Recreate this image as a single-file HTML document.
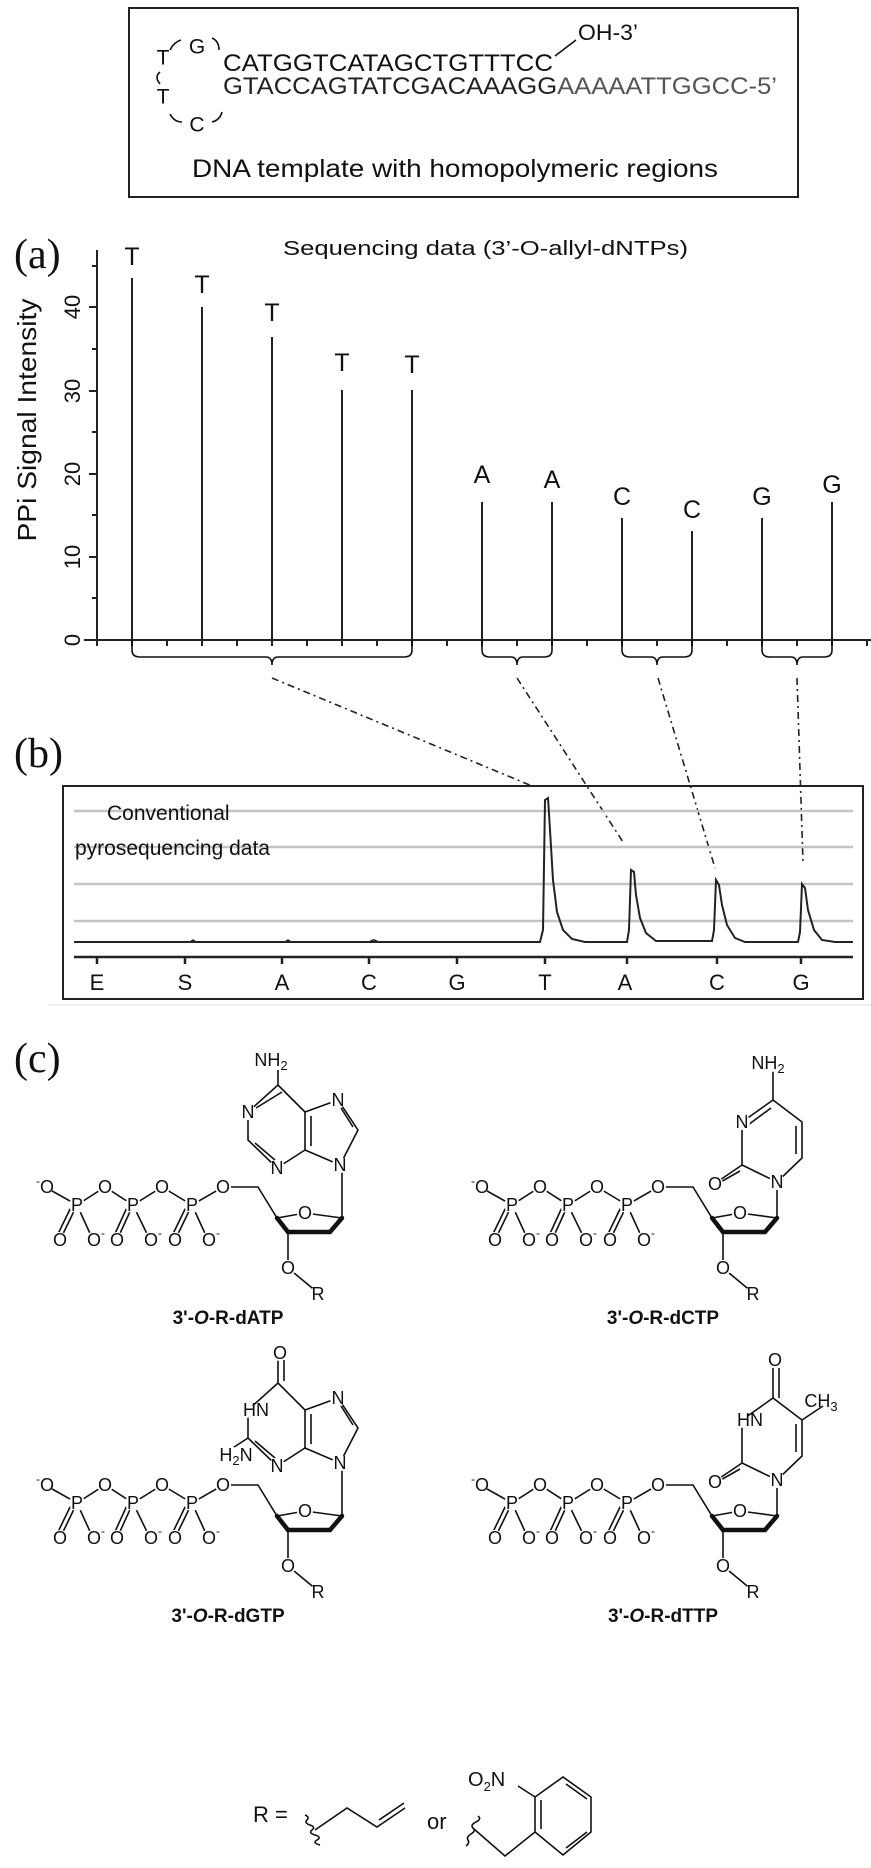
<!DOCTYPE html>
<html><head><meta charset="utf-8"><style>
html,body{margin:0;padding:0;background:#fff}
svg{display:block}
text{font-family:"Liberation Sans",sans-serif;fill:#111}
.ser{font-family:"Liberation Serif",serif}
.at{font-size:18px;text-anchor:middle;dominant-baseline:central;}
.b{stroke:#111;stroke-width:1.6;fill:none}
.w{stroke:#111;stroke-width:4.5;fill:none;stroke-linecap:round}
.lbl{font-size:19px;font-weight:bold;text-anchor:middle}
.dd{stroke:#222;stroke-width:1.6;stroke-dasharray:7 4 2 4;fill:none}
circle.h{fill:#fff;stroke:none}
</style></head><body>
<svg width="871" height="1868" viewBox="0 0 871 1868" xmlns="http://www.w3.org/2000/svg">
<rect x="0" y="0" width="871" height="1868" fill="#fff"/>

<!-- TOP BOX -->
<rect x="129" y="8" width="669" height="189" fill="none" stroke="#222" stroke-width="2"/>
<text x="163" y="58" font-size="21" text-anchor="middle" dominant-baseline="central">T</text>
<text x="197" y="47" font-size="21" text-anchor="middle" dominant-baseline="central">G</text>
<text x="163" y="97" font-size="21" text-anchor="middle" dominant-baseline="central">T</text>
<text x="197" y="125" font-size="21" text-anchor="middle" dominant-baseline="central">C</text>
<path d="M170,50 Q174,42 181,40 M212,38 Q219,41 219,50 M160,72 Q154,77 160,84 M170,114 Q174,122 182,122 M212,122 Q220,120 222,112" class="b"/>
<text x="223" y="71" font-size="24" textLength="330" lengthAdjust="spacingAndGlyphs">CATGGTCATAGCTGTTTCC</text>
<line x1="555" y1="56" x2="576" y2="40" class="b"/>
<text x="578" y="40" font-size="22" textLength="60" lengthAdjust="spacingAndGlyphs">OH-3’</text>
<text x="223" y="94" font-size="24" textLength="554" lengthAdjust="spacingAndGlyphs"><tspan fill="#222">GTACCAGTATCGACAAAGG</tspan><tspan fill="#555">AAAAATTGGCC-5’</tspan></text>
<text x="192" y="177" font-size="25" textLength="526" lengthAdjust="spacingAndGlyphs">DNA template with homopolymeric regions</text>

<!-- PANEL A -->
<text x="14" y="268" class="ser" font-size="42">(a)</text>
<text x="283" y="255" font-size="20" textLength="405" lengthAdjust="spacingAndGlyphs">Sequencing data (3’-O-allyl-dNTPs)</text>
<line x1="97" y1="250" x2="97" y2="640" stroke="#222" stroke-width="2"/>
<path d="M89,640H97M89,557H97M89,474H97M89,391H97M89,307H97M92,598H97M92,515H97M92,432H97M92,349H97M92,266H97" stroke="#222" stroke-width="2"/>
<g font-size="22" text-anchor="middle">
<text transform="translate(80,640) rotate(-90)">0</text>
<text transform="translate(80,557) rotate(-90)">10</text>
<text transform="translate(80,474) rotate(-90)">20</text>
<text transform="translate(80,391) rotate(-90)">30</text>
<text transform="translate(80,307) rotate(-90)">40</text>
</g>
<text transform="translate(36,420) rotate(-90)" font-size="26" text-anchor="middle" textLength="243" lengthAdjust="spacingAndGlyphs">PPi Signal Intensity</text>
<line x1="84" y1="640" x2="871" y2="640" stroke="#222" stroke-width="2"/>
<path d="M97,640v6M132,640v6M167,640v6M202,640v6M237,640v6M272,640v6M307,640v6M342,640v6M377,640v6M412,640v6M447,640v6M482,640v6M517,640v6M552,640v6M587,640v6M622,640v6M657,640v6M692,640v6M727,640v6M762,640v6M797,640v6M832,640v6M867,640v6" stroke="#222" stroke-width="2"/>
<g stroke="#222" stroke-width="2">
<line x1="132" y1="640" x2="132" y2="278"/>
<line x1="202" y1="640" x2="202" y2="307"/>
<line x1="272" y1="640" x2="272" y2="337"/>
<line x1="342" y1="640" x2="342" y2="390"/>
<line x1="412" y1="640" x2="412" y2="390"/>
<line x1="482" y1="640" x2="482" y2="502"/>
<line x1="552" y1="640" x2="552" y2="502"/>
<line x1="622" y1="640" x2="622" y2="518"/>
<line x1="692" y1="640" x2="692" y2="531"/>
<line x1="762" y1="640" x2="762" y2="518"/>
<line x1="832" y1="640" x2="832" y2="502"/>
</g>
<g font-size="25" text-anchor="middle" dominant-baseline="central">
<text x="132" y="257">T</text><text x="202" y="285">T</text><text x="272" y="313">T</text>
<text x="342" y="363">T</text><text x="412" y="365">T</text>
<text x="482" y="475">A</text><text x="552" y="480">A</text>
<text x="622" y="497">C</text><text x="692" y="510">C</text>
<text x="762" y="497">G</text><text x="832" y="485">G</text>
</g>
<g class="b" stroke-width="2">
<path d="M132,640V650Q132,657 140,657H266Q272,657 272,665Q272,657 278,657H404Q412,657 412,650V640"/>
<path d="M482,640V650Q482,657 490,657H511Q517,657 517,665Q517,657 523,657H544Q552,657 552,650V640"/>
<path d="M622,640V650Q622,657 630,657H651Q657,657 657,665Q657,657 663,657H684Q692,657 692,650V640"/>
<path d="M762,640V650Q762,657 770,657H791Q797,657 797,665Q797,657 803,657H824Q832,657 832,650V640"/>
</g>
<line class="dd" x1="272" y1="678" x2="532" y2="786"/>
<line class="dd" x1="517" y1="678" x2="623" y2="842"/>
<line class="dd" x1="658" y1="678" x2="715" y2="868"/>
<line class="dd" x1="797" y1="678" x2="803" y2="862"/>

<!-- PANEL B -->
<text x="14" y="767" class="ser" font-size="42">(b)</text>
<rect x="63" y="786" width="800" height="213" fill="none" stroke="#222" stroke-width="2"/>
<line x1="48" y1="1005" x2="871" y2="1005" stroke="#eee" stroke-width="2"/>
<g stroke="#c4c4c4" stroke-width="2.5">
<line x1="74" y1="811" x2="853" y2="811"/><line x1="74" y1="847" x2="853" y2="847"/>
<line x1="74" y1="884" x2="853" y2="884"/><line x1="74" y1="921" x2="853" y2="921"/>
</g>
<text x="107" y="820" font-size="21">Conventional</text>
<text x="75" y="855" font-size="21">pyrosequencing data</text>
<path d="M74,942H540L543,930L545,800L548,798L550,830L553,880L557,912L563,930L572,939L585,942H627L629,930L631,870L634,872L636,895L640,918L646,933L656,941H712L714,930L716,880L719,885L722,905L727,925L735,938L745,942H798L800,932L802,884L805,888L808,910L814,930L822,940L835,942H853" stroke="#222" stroke-width="2" fill="none"/>
<path d="M190,942l3,-2 3,2M285,942l3,-2 3,2M370,942q3,-4 8,0" stroke="#222" stroke-width="1.5" fill="none"/>
<line x1="74" y1="957" x2="853" y2="957" stroke="#222" stroke-width="2.5"/>
<path d="M97,957v7M185,957v7M282,957v7M369,957v7M457,957v7M545,957v7M627,957v7M717,957v7M801,957v7" stroke="#222" stroke-width="2.5"/>
<g font-size="22" text-anchor="middle">
<text x="97" y="990">E</text><text x="185" y="990">S</text><text x="282" y="990">A</text>
<text x="369" y="990">C</text><text x="457" y="990">G</text><text x="545" y="990">T</text>
<text x="625" y="990">A</text><text x="717" y="990">C</text><text x="801" y="990">G</text>
</g>

<!-- PANEL C -->
<text x="14" y="1072" class="ser" font-size="42">(c)</text>

<g>
<g class="b">
<path d="M45,1187L77,1205L105,1187L133,1205L162,1187L192,1205L223,1187H258L277,1218L305,1213L342,1218"/>
<path d="M77,1205L60,1240M73,1203L56,1238M77,1205L93,1240M133,1205L117,1240M129,1203L113,1238M133,1205L150,1240M192,1205L175,1240M188,1203L171,1238M192,1205L208,1240"/>
<path d="M288,1232V1268L317,1292"/>
</g>
<path class="w" d="M277,1218L288,1232H330L342,1218"/>
<g><circle class="h" cx="45" cy="1187" r="8"/><circle class="h" cx="105" cy="1187" r="8"/><circle class="h" cx="162" cy="1187" r="8"/><circle class="h" cx="223" cy="1187" r="8"/><circle class="h" cx="77" cy="1205" r="8"/><circle class="h" cx="133" cy="1205" r="8"/><circle class="h" cx="192" cy="1205" r="8"/><circle class="h" cx="60" cy="1240" r="8"/><circle class="h" cx="93" cy="1240" r="8"/><circle class="h" cx="117" cy="1240" r="8"/><circle class="h" cx="150" cy="1240" r="8"/><circle class="h" cx="175" cy="1240" r="8"/><circle class="h" cx="208" cy="1240" r="8"/><circle class="h" cx="305" cy="1213" r="8"/><circle class="h" cx="288" cy="1268" r="8"/><circle class="h" cx="318" cy="1294" r="8"/></g>
<text class="at" x="45" y="1187"><tspan font-size="12" dy="-6">-</tspan><tspan dy="6">O</tspan></text>
<text class="at" x="105" y="1187">O</text><text class="at" x="162" y="1187">O</text><text class="at" x="223" y="1187">O</text>
<text class="at" x="77" y="1205">P</text><text class="at" x="133" y="1205">P</text><text class="at" x="192" y="1205">P</text>
<text class="at" x="60" y="1240">O</text><text class="at" x="117" y="1240">O</text><text class="at" x="175" y="1240">O</text>
<text class="at" x="96" y="1240">O<tspan font-size="12" dy="-7">-</tspan></text>
<text class="at" x="153" y="1240">O<tspan font-size="12" dy="-7">-</tspan></text>
<text class="at" x="211" y="1240">O<tspan font-size="12" dy="-7">-</tspan></text>
<text class="at" x="305" y="1213">O</text>
<text class="at" x="288" y="1268">O</text>
<text class="at" x="318" y="1294">R</text>
</g>
<g transform="translate(435,0)">
<g class="b">
<path d="M45,1187L77,1205L105,1187L133,1205L162,1187L192,1205L223,1187H258L277,1218L305,1213L342,1218"/>
<path d="M77,1205L60,1240M73,1203L56,1238M77,1205L93,1240M133,1205L117,1240M129,1203L113,1238M133,1205L150,1240M192,1205L175,1240M188,1203L171,1238M192,1205L208,1240"/>
<path d="M288,1232V1268L317,1292"/>
</g>
<path class="w" d="M277,1218L288,1232H330L342,1218"/>
<g><circle class="h" cx="45" cy="1187" r="8"/><circle class="h" cx="105" cy="1187" r="8"/><circle class="h" cx="162" cy="1187" r="8"/><circle class="h" cx="223" cy="1187" r="8"/><circle class="h" cx="77" cy="1205" r="8"/><circle class="h" cx="133" cy="1205" r="8"/><circle class="h" cx="192" cy="1205" r="8"/><circle class="h" cx="60" cy="1240" r="8"/><circle class="h" cx="93" cy="1240" r="8"/><circle class="h" cx="117" cy="1240" r="8"/><circle class="h" cx="150" cy="1240" r="8"/><circle class="h" cx="175" cy="1240" r="8"/><circle class="h" cx="208" cy="1240" r="8"/><circle class="h" cx="305" cy="1213" r="8"/><circle class="h" cx="288" cy="1268" r="8"/><circle class="h" cx="318" cy="1294" r="8"/></g>
<text class="at" x="45" y="1187"><tspan font-size="12" dy="-6">-</tspan><tspan dy="6">O</tspan></text>
<text class="at" x="105" y="1187">O</text><text class="at" x="162" y="1187">O</text><text class="at" x="223" y="1187">O</text>
<text class="at" x="77" y="1205">P</text><text class="at" x="133" y="1205">P</text><text class="at" x="192" y="1205">P</text>
<text class="at" x="60" y="1240">O</text><text class="at" x="117" y="1240">O</text><text class="at" x="175" y="1240">O</text>
<text class="at" x="96" y="1240">O<tspan font-size="12" dy="-7">-</tspan></text>
<text class="at" x="153" y="1240">O<tspan font-size="12" dy="-7">-</tspan></text>
<text class="at" x="211" y="1240">O<tspan font-size="12" dy="-7">-</tspan></text>
<text class="at" x="305" y="1213">O</text>
<text class="at" x="288" y="1268">O</text>
<text class="at" x="318" y="1294">R</text>
</g>
<g transform="translate(0,298)">
<g class="b">
<path d="M45,1187L77,1205L105,1187L133,1205L162,1187L192,1205L223,1187H258L277,1218L305,1213L342,1218"/>
<path d="M77,1205L60,1240M73,1203L56,1238M77,1205L93,1240M133,1205L117,1240M129,1203L113,1238M133,1205L150,1240M192,1205L175,1240M188,1203L171,1238M192,1205L208,1240"/>
<path d="M288,1232V1268L317,1292"/>
</g>
<path class="w" d="M277,1218L288,1232H330L342,1218"/>
<g><circle class="h" cx="45" cy="1187" r="8"/><circle class="h" cx="105" cy="1187" r="8"/><circle class="h" cx="162" cy="1187" r="8"/><circle class="h" cx="223" cy="1187" r="8"/><circle class="h" cx="77" cy="1205" r="8"/><circle class="h" cx="133" cy="1205" r="8"/><circle class="h" cx="192" cy="1205" r="8"/><circle class="h" cx="60" cy="1240" r="8"/><circle class="h" cx="93" cy="1240" r="8"/><circle class="h" cx="117" cy="1240" r="8"/><circle class="h" cx="150" cy="1240" r="8"/><circle class="h" cx="175" cy="1240" r="8"/><circle class="h" cx="208" cy="1240" r="8"/><circle class="h" cx="305" cy="1213" r="8"/><circle class="h" cx="288" cy="1268" r="8"/><circle class="h" cx="318" cy="1294" r="8"/></g>
<text class="at" x="45" y="1187"><tspan font-size="12" dy="-6">-</tspan><tspan dy="6">O</tspan></text>
<text class="at" x="105" y="1187">O</text><text class="at" x="162" y="1187">O</text><text class="at" x="223" y="1187">O</text>
<text class="at" x="77" y="1205">P</text><text class="at" x="133" y="1205">P</text><text class="at" x="192" y="1205">P</text>
<text class="at" x="60" y="1240">O</text><text class="at" x="117" y="1240">O</text><text class="at" x="175" y="1240">O</text>
<text class="at" x="96" y="1240">O<tspan font-size="12" dy="-7">-</tspan></text>
<text class="at" x="153" y="1240">O<tspan font-size="12" dy="-7">-</tspan></text>
<text class="at" x="211" y="1240">O<tspan font-size="12" dy="-7">-</tspan></text>
<text class="at" x="305" y="1213">O</text>
<text class="at" x="288" y="1268">O</text>
<text class="at" x="318" y="1294">R</text>
</g>
<g transform="translate(435,298)">
<g class="b">
<path d="M45,1187L77,1205L105,1187L133,1205L162,1187L192,1205L223,1187H258L277,1218L305,1213L342,1218"/>
<path d="M77,1205L60,1240M73,1203L56,1238M77,1205L93,1240M133,1205L117,1240M129,1203L113,1238M133,1205L150,1240M192,1205L175,1240M188,1203L171,1238M192,1205L208,1240"/>
<path d="M288,1232V1268L317,1292"/>
</g>
<path class="w" d="M277,1218L288,1232H330L342,1218"/>
<g><circle class="h" cx="45" cy="1187" r="8"/><circle class="h" cx="105" cy="1187" r="8"/><circle class="h" cx="162" cy="1187" r="8"/><circle class="h" cx="223" cy="1187" r="8"/><circle class="h" cx="77" cy="1205" r="8"/><circle class="h" cx="133" cy="1205" r="8"/><circle class="h" cx="192" cy="1205" r="8"/><circle class="h" cx="60" cy="1240" r="8"/><circle class="h" cx="93" cy="1240" r="8"/><circle class="h" cx="117" cy="1240" r="8"/><circle class="h" cx="150" cy="1240" r="8"/><circle class="h" cx="175" cy="1240" r="8"/><circle class="h" cx="208" cy="1240" r="8"/><circle class="h" cx="305" cy="1213" r="8"/><circle class="h" cx="288" cy="1268" r="8"/><circle class="h" cx="318" cy="1294" r="8"/></g>
<text class="at" x="45" y="1187"><tspan font-size="12" dy="-6">-</tspan><tspan dy="6">O</tspan></text>
<text class="at" x="105" y="1187">O</text><text class="at" x="162" y="1187">O</text><text class="at" x="223" y="1187">O</text>
<text class="at" x="77" y="1205">P</text><text class="at" x="133" y="1205">P</text><text class="at" x="192" y="1205">P</text>
<text class="at" x="60" y="1240">O</text><text class="at" x="117" y="1240">O</text><text class="at" x="175" y="1240">O</text>
<text class="at" x="96" y="1240">O<tspan font-size="12" dy="-7">-</tspan></text>
<text class="at" x="153" y="1240">O<tspan font-size="12" dy="-7">-</tspan></text>
<text class="at" x="211" y="1240">O<tspan font-size="12" dy="-7">-</tspan></text>
<text class="at" x="305" y="1213">O</text>
<text class="at" x="288" y="1268">O</text>
<text class="at" x="318" y="1294">R</text>
</g>

<!-- Adenine -->
<g>
<path class="b" d="M342,1218V1165M278,1070V1085L248,1112V1140L277,1168L305,1150V1112L278,1085M305,1112L338,1100L358,1130L340,1165L305,1150M282,1092L256,1108M255,1143L275,1160M311,1116V1146M341,1108L353,1127"/>
<circle class="h" cx="278" cy="1060" r="9"/><circle class="h" cx="248" cy="1112" r="8"/><circle class="h" cx="277" cy="1168" r="8"/><circle class="h" cx="338" cy="1100" r="8"/><circle class="h" cx="340" cy="1165" r="8"/>
<text class="at" x="278" y="1060" text-anchor="start" dx="-7">NH<tspan font-size="13" dy="5">2</tspan></text>
<text class="at" x="248" y="1112">N</text><text class="at" x="277" y="1168">N</text>
<text class="at" x="338" y="1100">N</text><text class="at" x="340" y="1165">N</text>
<text class="lbl" x="228" y="1324">3'-<tspan font-style="italic">O</tspan>-R-dATP</text>
</g>
<!-- Cytosine -->
<g transform="translate(435,0)">
<path class="b" d="M342,1218V1182L307,1165V1122L338,1100L367,1122V1158L342,1182M307,1165L282,1182M305,1171L284,1183M338,1100V1070M313,1125L336,1108M361,1126V1154"/>
<circle class="h" cx="340" cy="1063" r="9"/><circle class="h" cx="307" cy="1122" r="8"/><circle class="h" cx="342" cy="1182" r="8"/><circle class="h" cx="280" cy="1184" r="8"/>
<text class="at" x="340" y="1063" text-anchor="start" dx="-7">NH<tspan font-size="13" dy="5">2</tspan></text>
<text class="at" x="307" y="1122">N</text><text class="at" x="342" y="1182">N</text><text class="at" x="280" y="1184">O</text>
<text class="lbl" x="228" y="1324">3'-<tspan font-style="italic">O</tspan>-R-dCTP</text>
</g>
<!-- Guanine -->
<g transform="translate(0,298)">
<path class="b" d="M342,1218V1165M278,1062V1085L248,1112V1140L277,1168L305,1150V1112L278,1085M248,1140L228,1153M284,1062V1083M305,1112L338,1100L358,1130L340,1165L305,1150M255,1143L275,1160M311,1116V1146M341,1108L353,1127"/>
<circle class="h" cx="280" cy="1055" r="8"/><circle class="h" cx="246" cy="1112" r="8"/><circle class="h" cx="230" cy="1156" r="8"/><circle class="h" cx="277" cy="1168" r="8"/><circle class="h" cx="338" cy="1100" r="8"/><circle class="h" cx="340" cy="1165" r="8"/>
<text class="at" x="280" y="1055">O</text>
<text class="at" x="256" y="1112" text-anchor="end">HN</text>
<text class="at" x="236" y="1157" text-anchor="end">H<tspan font-size="13" dy="5">2</tspan><tspan dy="-5">N</tspan></text>
<text class="at" x="277" y="1168">N</text>
<text class="at" x="338" y="1100">N</text><text class="at" x="340" y="1165">N</text>
<text class="lbl" x="228" y="1324">3'-<tspan font-style="italic">O</tspan>-R-dGTP</text>
</g>
<!-- Thymine -->
<g transform="translate(435,298)">
<path class="b" d="M342,1218V1182L307,1165V1122L338,1100L367,1122V1158L342,1182M307,1165L282,1182M305,1171L284,1183M338,1100V1070M344,1100V1070M367,1122L388,1108M361,1126V1154"/>
<circle class="h" cx="340" cy="1062" r="8"/><circle class="h" cx="305" cy="1122" r="8"/><circle class="h" cx="342" cy="1182" r="8"/><circle class="h" cx="280" cy="1184" r="8"/>
<text class="at" x="340" y="1062">O</text>
<text class="at" x="315" y="1122" text-anchor="end">HN</text>
<text class="at" x="342" y="1182">N</text><text class="at" x="280" y="1184">O</text>
<text class="at" x="386" y="1103" text-anchor="start">CH<tspan font-size="13" dy="5">3</tspan></text>
<text class="lbl" x="228" y="1324">3'-<tspan font-style="italic">O</tspan>-R-dTTP</text>
</g>

<!-- R group -->
<text x="253" y="1822" font-size="22">R =</text>
<path class="b" d="M305,1815q5,2 2,5t3,5 2,5 3,5 2,5 3,5M315,1830L347,1808L377,1827L405,1808M379,1820L404,1803"/>
<text x="427" y="1829" font-size="22">or</text>
<path class="b" d="M466,1846q4,-3 2,-6t3,-6 2,-6 3,-6 2,-6M474,1829L505,1856L535,1832V1797L563,1777L591,1797V1832L563,1855L535,1832M541,1800V1829M566,1784L587,1799M566,1848L587,1832M535,1797L518,1786"/>
<text x="468" y="1786" font-size="20">O<tspan font-size="13" dy="5">2</tspan><tspan dy="-5">N</tspan></text>
</svg>
</body></html>
